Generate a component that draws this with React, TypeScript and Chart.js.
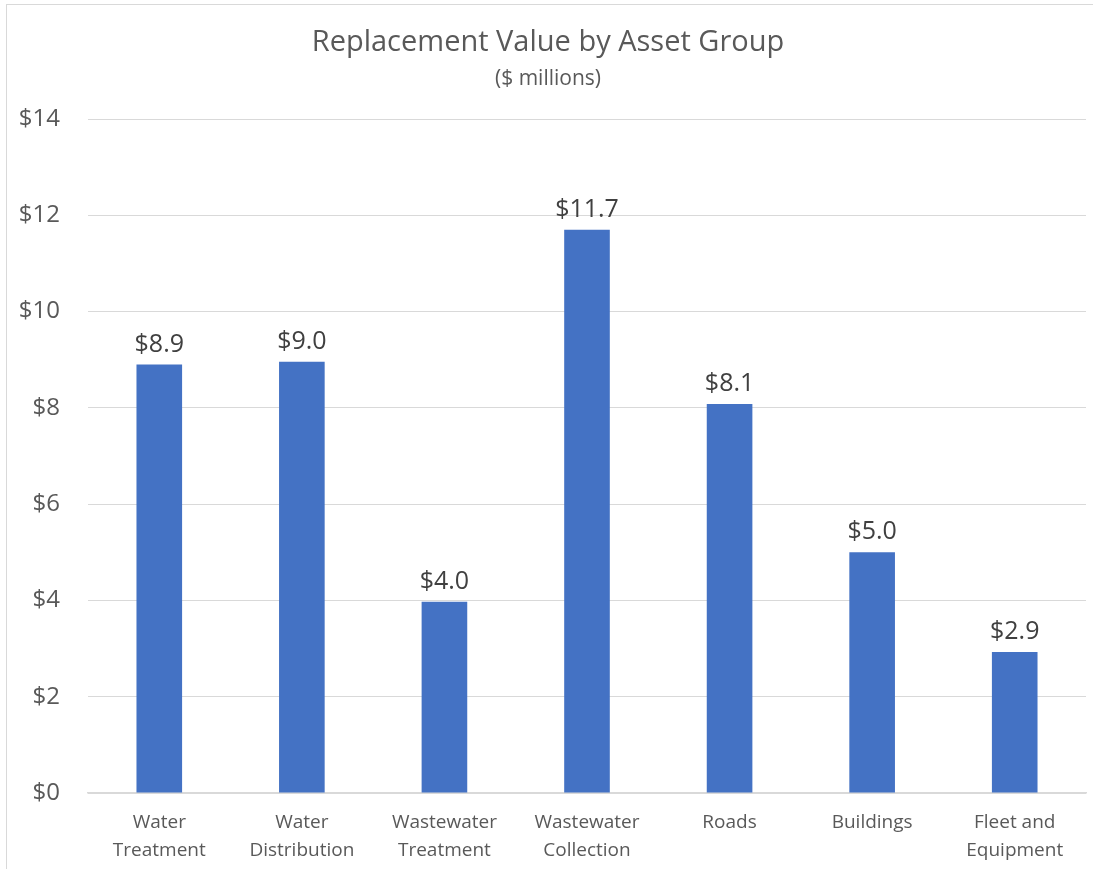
import React, { useEffect, useRef } from "react";
import { Chart, registerables } from "chart.js";

Chart.register(...registerables);

const categories: string[][] = [
  ["Water", "Treatment"],
  ["Water", "Distribution"],
  ["Wastewater", "Treatment"],
  ["Wastewater", "Collection"],
  ["Roads"],
  ["Buildings"],
  ["Fleet and", "Equipment"],
];
const values: number[] = [8.9, 8.96, 3.97, 11.7, 8.08, 5.0, 2.93];
const titleText = "Replacement Value by Asset Group";
const subtitleText = "($ millions)";

const FONT = "'Open Sans', 'Noto Sans', sans-serif";
const TEXT = "#595959";

const dataLabels = {
  id: "dataLabels",
  afterDatasetsDraw(chart: any) {
    const ctx = chart.ctx;
    const meta = chart.getDatasetMeta(0);
    ctx.save();
    ctx.font = `25px ${FONT}`;
    ctx.fillStyle = "#404040";
    ctx.textAlign = "center";
    ctx.textBaseline = "alphabetic";
    meta.data.forEach((bar: any, i: number) => {
      ctx.fillText("$" + values[i].toFixed(1), bar.x, bar.y - 13);
    });
    ctx.restore();
  },
};

export default function App() {
  const ref = useRef<HTMLCanvasElement>(null);
  useEffect(() => {
    if (!ref.current) return;
    const chart = new Chart(ref.current, {
      type: "bar",
      data: {
        labels: categories,
        datasets: [
          {
            data: values,
            backgroundColor: "#4472C4",
            barPercentage: 0.64,
            categoryPercentage: 0.5,
          },
        ],
      },
      options: {
        animation: false,
        responsive: false,
        maintainAspectRatio: false,
        layout: { padding: { left: 10, right: 7, top: 25, bottom: 4 } },
        plugins: {
          legend: { display: false },
          tooltip: { enabled: false },
          title: {
            display: true,
            text: titleText,
            color: TEXT,
            font: { family: FONT, size: 29, weight: "normal" },
            padding: { top: 0, bottom: 7 },
          },
          subtitle: {
            display: true,
            text: subtitleText,
            color: TEXT,
            font: { family: FONT, size: 21, weight: "normal" },
            padding: { top: 0, bottom: 27 },
          },
        },
        scales: {
          x: {
            grid: { display: false, drawTicks: false },
            border: { display: true, color: "#D9D9D9", width: 1.5 },
            afterFit: (scale: any) => {
              scale.height = 72;
            },
            ticks: {
              color: TEXT,
              font: { family: FONT, size: 19, lineHeight: 1.5 },
              padding: 15,
              maxRotation: 0,
              autoSkip: false,
            },
          },
          y: {
            min: 0,
            max: 14,
            grid: { color: "#D9D9D9", drawTicks: false },
            border: { display: false },
            afterFit: (scale: any) => {
              scale.width = 78;
            },
            ticks: {
              stepSize: 2,
              color: TEXT,
              font: { family: FONT, size: 24 },
              padding: 28,
              callback: (v: any) => "$" + v,
            },
          },
        },
      },
      plugins: [dataLabels],
    });
    return () => chart.destroy();
  }, []);
  return (
    <div
      style={{
        position: "fixed",
        left: 0,
        top: 0,
        width: 1093,
        height: 869,
        background: "#fff",
      }}
    >
      <div
        style={{
          position: "absolute",
          left: 6,
          top: 4,
          width: 1100,
          height: 900,
          borderLeft: "1px solid #D9D9D9",
          borderTop: "1px solid #D9D9D9",
          boxSizing: "border-box",
        }}
      />
      <canvas
        ref={ref}
        width={1093}
        height={869}
        style={{ position: "absolute", left: 0, top: 0 }}
      />
    </div>
  );
}
